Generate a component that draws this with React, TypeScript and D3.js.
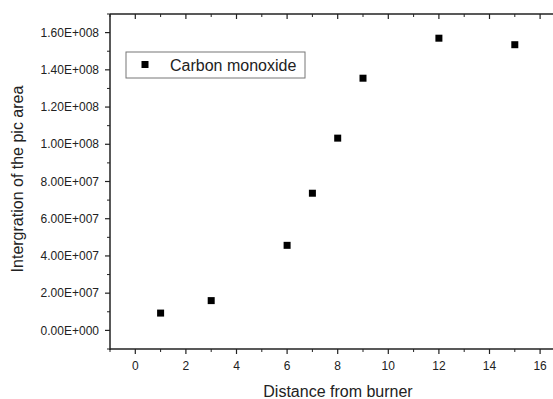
import React from "react";
import * as d3 from "d3";

const distances = [1, 3, 6, 7, 8, 9, 12, 15];
const coValues = [0.93e7, 1.6e7, 4.57e7, 7.37e7, 1.033e8, 1.355e8, 1.57e8, 1.535e8];
const xTicks = [0, 2, 4, 6, 8, 10, 12, 14, 16];
const xMinor = [-1, 1, 3, 5, 7, 9, 11, 13, 15];
const yTicks = [0, 2e7, 4e7, 6e7, 8e7, 1e8, 1.2e8, 1.4e8, 1.6e8];
const yTickLabels = ["0.00E+000", "2.00E+007", "4.00E+007", "6.00E+007", "8.00E+007", "1.00E+008", "1.20E+008", "1.40E+008", "1.60E+008"];
const yMinor = [-1e7, 1e7, 3e7, 5e7, 7e7, 9e7, 1.1e8, 1.3e8, 1.5e8, 1.7e8];
const seriesName = "Carbon monoxide";
const xTitle = "Distance from burner";
const yTitle = "Intergration of the pic area";

export default function App() {
  const W = 553, H = 399;
  const left = 110, top = 14, bottom = 349;
  const x = d3.scaleLinear().domain([-1, 17]).range([left, left + 18 * 25.3]);
  const y = d3.scaleLinear().domain([-1e7, 1.7e8]).range([bottom, top]);
  const right = x(17);
  const font = "Arial, 'Liberation Sans', sans-serif";
  const col = "#222";
  const ms = 7;
  return (
    <svg width={W} height={H} style={{ position: "absolute", left: 0, top: 0, background: "#fff" }} fontFamily={font}>
      <rect width={W} height={H} fill="#fff" />
      {/* axes lines */}
      <line x1={left} x2={left} y1={top} y2={bottom + 1} stroke={col} strokeWidth={1.5} />
      <line x1={left} x2={right} y1={bottom} y2={bottom} stroke={col} strokeWidth={1.5} />
      <line x1={left} x2={right} y1={top} y2={top} stroke={col} strokeWidth={1.5} />
      <line x1={right} x2={right} y1={top} y2={bottom} stroke={col} strokeWidth={1.5} />
      {/* y ticks */}
      {yTicks.map((t, i) => (
        <g key={"y" + i}>
          <line x1={left - 5} x2={left} y1={y(t)} y2={y(t)} stroke={col} strokeWidth={1.2} />
          <text x={left - 11} y={y(t)} dy="0.35em" textAnchor="end" fontSize={12} fill={col}>{yTickLabels[i]}</text>
        </g>
      ))}
      {yMinor.map((t, i) => (
        <line key={"ym" + i} x1={left - 3} x2={left} y1={y(t)} y2={y(t)} stroke={col} strokeWidth={1} />
      ))}
      {/* x ticks */}
      {xTicks.map((t, i) => (
        <g key={"x" + i}>
          <line x1={x(t)} x2={x(t)} y1={bottom} y2={bottom + 5} stroke={col} strokeWidth={1.2} />
          <line x1={x(t)} x2={x(t)} y1={top} y2={top + 5} stroke={col} strokeWidth={1.2} />
          <text x={x(t)} y={bottom + 21} textAnchor="middle" fontSize={12} fill={col}>{t}</text>
        </g>
      ))}
      {xMinor.map((t, i) => (
        <g key={"xm" + i}>
          <line x1={x(t)} x2={x(t)} y1={bottom} y2={bottom + 3} stroke={col} strokeWidth={1} />
          <line x1={x(t)} x2={x(t)} y1={top} y2={top + 3} stroke={col} strokeWidth={1} />
        </g>
      ))}
      {/* titles */}
      <text x={338} y={396.5} textAnchor="middle" fontSize={16} fill={col}>{xTitle}</text>
      <text transform={`translate(23, 179) rotate(-90)`} textAnchor="middle" fontSize={16} fill={col}>{yTitle}</text>
      {/* data */}
      {distances.map((d, i) => (
        <rect key={"p" + i} x={x(d) - ms / 2} y={y(coValues[i]) - ms / 2} width={ms} height={ms} fill="#000" />
      ))}
      {/* legend */}
      <rect x={126} y={52} width={179} height={26} fill="#fff" stroke="#777" strokeWidth={1} />
      <rect x={145 - ms / 2} y={64.5 - ms / 2} width={ms} height={ms} fill="#000" />
      <text x={170} y={71} fontSize={16} fill={col}>{seriesName}</text>
    </svg>
  );
}
